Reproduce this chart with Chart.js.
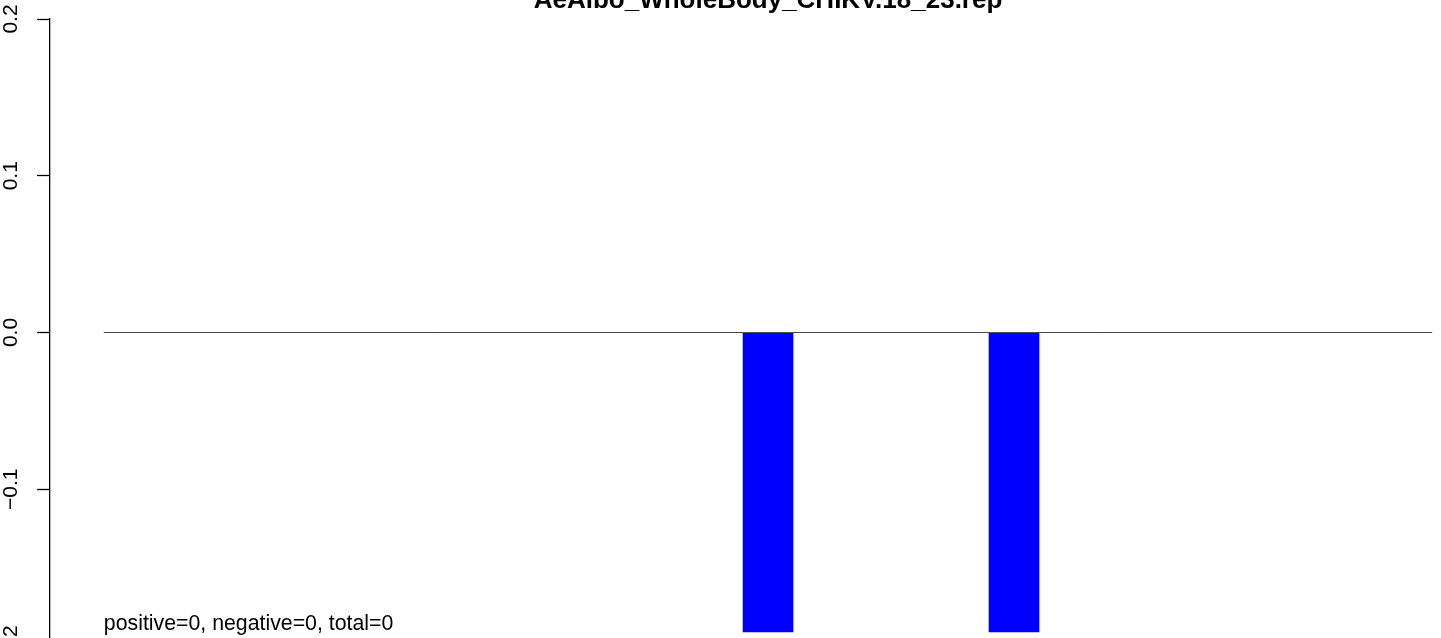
<!DOCTYPE html>
<html>
<head>
<meta charset="utf-8">
<script src="https://cdn.jsdelivr.net/npm/chart.js@4"></script>
<style>
  html, body { margin: 0; padding: 0; background: #fff; overflow: hidden; width: 1441px; height: 638px; }
  #wrap { position: absolute; left: 0; top: -40px; width: 1536px; height: 720px; }
</style>
</head>
<body>
<div id="wrap"><canvas id="chart"></canvas></div>
<script>
const chartTitle = 'AeAlbo_WholeBody_CHIKV.18_23.rep';
const noteText = 'positive=0, negative=0, total=0';

// bar positions (x units) and their values
const barX = [11, 15];
const barValues = [-0.191, -0.191];

// zero reference line and x range
const zeroLineX = [0.2, 21.8];
const xMin = -0.675;
const xMax = 22.675;

// y axis
const yMin = -0.2;
const yMax = 0.2;
const yStep = 0.1;
const noteY = -0.19;

const fontFamily = '"Liberation Sans", Arial, Helvetica, sans-serif';

const textPlugin = {
  id: 'textPlugin',
  afterDraw(chart) {
    const { ctx, chartArea, scales } = chart;
    ctx.save();
    ctx.fillStyle = '#000';
    ctx.font = `bold 26px ${fontFamily}`;
    ctx.textAlign = 'center';
    ctx.textBaseline = 'alphabetic';
    ctx.fillText(chartTitle, (chartArea.left + chartArea.right) / 2, chartArea.top - 11);

    ctx.font = `21.3px ${fontFamily}`;
    ctx.textAlign = 'left';
    ctx.fillText(noteText, scales.x.getPixelForValue(zeroLineX[0]), scales.y.getPixelForValue(noteY));
    ctx.restore();
  }
};

document.addEventListener('DOMContentLoaded', () => {
  const ctx = document.getElementById('chart').getContext('2d');

  new Chart(ctx, {
    data: {
      datasets: [
        {
          type: 'line',
          data: zeroLineX.map(x => ({ x, y: 0 })),
          borderColor: '#4d4d4d',
          borderWidth: 1,
          pointRadius: 0,
          order: 0
        },
        {
          type: 'bar',
          data: barX.map((x, i) => ({ x, y: barValues[i] })),
          backgroundColor: '#0000ff',
          borderWidth: 0,
          barThickness: 50,
          order: 1
        }
      ]
    },
    options: {
      responsive: true,
      maintainAspectRatio: false,
      animation: false,
      layout: { padding: { top: 59, bottom: 34, left: 0, right: 50 } },
      plugins: { legend: { display: false }, tooltip: { enabled: false } },
      scales: {
        x: { type: 'linear', min: xMin, max: xMax, offset: false, display: false },
        y: {
          type: 'linear',
          min: yMin,
          max: yMax,
          afterFit: scale => { scale.width = 50; },
          ticks: {
            stepSize: yStep,
            minRotation: 90,
            maxRotation: 90,
            crossAlign: 'center',
            padding: 5,
            color: '#000',
            font: { family: fontFamily, size: 21 },
            callback: v => (Math.abs(v) < 1e-9 ? '0.0' : v.toFixed(1).replace('-', '\u2212'))
          },
          grid: {
            drawOnChartArea: false,
            drawTicks: true,
            tickLength: 13,
            tickColor: '#000',
            tickWidth: 1.3
          },
          border: { display: true, color: '#000', width: 1.3 }
        }
      }
    },
    plugins: [textPlugin]
  });
});
</script>
</body>
</html>
